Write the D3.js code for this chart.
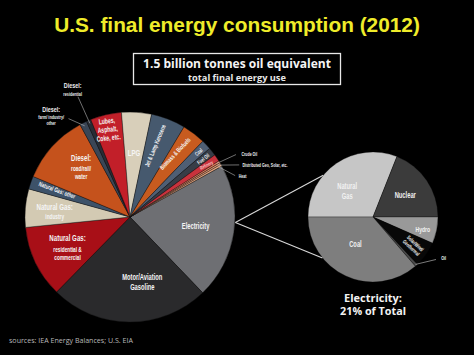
<!DOCTYPE html>
<html><head><meta charset="utf-8">
<script src="https://cdn.jsdelivr.net/npm/d3@7"></script>
<style>
html,body{margin:0;padding:0;background:#000;}
svg{display:block;}
</style></head>
<body>
<script>
// ---------- DATA ----------
const mainCategories = ["Electricity","Motor/Aviation Gasoline","Natural Gas: residential & commercial","Natural Gas: industry","Natural Gas: other","Diesel: road/rail/water","Diesel: farm/industry/other","Diesel: residential","Lubes, Asphalt, Coke, etc.","LPG","Jet & Lamp Kerosene","Biomass & Biofuels","Coal","Fuel Oil","Refinery","Crude Oil","Distributed Geo, Solar, etc.","Heat"];
const mainValues = [20.9,24.5,11.1,5.9,2.0,10.8,1.1,0.7,4.8,4.6,5.3,3.6,1.5,1.25,1.1,0.3,0.3,0.3];
const elecCategories = ["Natural Gas","Nuclear","Hydro","Solar/Wind/Geothermal","Oil","Coal"];
const elecValues = [31.0,19.0,6.6,6.4,0.7,36.3];
const titleText = "U.S. final energy consumption (2012)";
const totalText = ["1.5 billion tonnes oil equivalent","total final energy use"];
const elecTotalText = ["Electricity:","21% of Total"];
const sourceText = "sources: IEA Energy Balances; U.S. EIA";

// ---------- STYLE ----------
const mainColors = ["#6e6f73","#2a2a2c","#a80f17","#d3cab3","#3d5269","#c5521c","#3a4656","#272c35","#c21f29","#d8cfba","#46596e","#c75b1f","#4f5f74","#373d47","#c8323c","#e27a5a","#d99470","#e8a882"];
const elecColors = ["#c6c6c6","#3b3b3b","#999999","#080808","#4a4a4a","#7e7e7e"];
const W=474,H=355;
const labelFont = "'Liberation Sans',Arial,sans-serif";
const SX = 0.68; // condensed look
const rad = d=>d*Math.PI/180;

const svg = d3.select("body").append("svg").attr("width",W).attr("height",H);
svg.append("rect").attr("width",W).attr("height",H).attr("fill","#000");

function fit(sel, w){ const n=sel.node(); const l=n.getComputedTextLength(); const fs=parseFloat(sel.attr("font-size")); sel.attr("font-size", fs*w/l); }

// condensed multi-line label: lines = [[text,size,dy],...]
function ctext(parent, x, y, rot, lines, anchor, color){
  const grp = parent.append("g").attr("transform",`translate(${x},${y}) rotate(${rot||0}) scale(${SX},1)`);
  lines.forEach(([s,size,dy])=>{
    grp.append("text").attr("x",0).attr("y",dy).attr("text-anchor",anchor||"middle")
      .attr("font-family",labelFont).attr("font-weight","bold").attr("font-size",size)
      .attr("fill",color||"#f5f5f5").text(s);
  });
  return grp;
}

// title
const t = svg.append("text").attr("x",237).attr("y",32).attr("text-anchor","middle")
  .attr("font-family","'Liberation Sans',Arial,sans-serif").attr("font-weight","bold")
  .attr("font-size",20).attr("fill","#efec2a").text(titleText);
fit(t,366);

// total box
svg.append("rect").attr("x",133.5).attr("y",53.5).attr("width",207).attr("height",31)
  .attr("fill","none").attr("stroke","#e8e8e8").attr("stroke-width",1.3);
const b1 = svg.append("text").attr("x",237).attr("y",67.5).attr("text-anchor","middle")
  .attr("font-family","'Open Sans',Lato,sans-serif").attr("font-weight","bold").attr("font-size",12)
  .attr("fill","#f4f4f4").text(totalText[0]);
fit(b1,188);
const b2 = svg.append("text").attr("x",237).attr("y",81).attr("text-anchor","middle")
  .attr("font-family","'Open Sans',Lato,sans-serif").attr("font-weight","bold").attr("font-size",8)
  .attr("fill","#e8e8e8").text(totalText[1]);
fit(b2,98);

// ---------- MAIN PIE ----------
const cx=130, cy=217, R=105;
const start = rad(61);
const pie = d3.pie().sort(null).value(d=>d).startAngle(start).endAngle(start+2*Math.PI);
const arcs = pie(mainValues);
const arc = d3.arc().innerRadius(0).outerRadius(R);
const g = svg.append("g").attr("transform",`translate(${cx},${cy})`);
g.selectAll("path").data(arcs).join("path").attr("d",arc)
  .attr("fill",(d,i)=>mainColors[i]).attr("stroke","#111").attr("stroke-width",0.4);

function polar(deg, r){ return [r*Math.sin(rad(deg)), -r*Math.cos(rad(deg))]; }
const midDeg = d=>((d.startAngle+d.endAngle)/2)*180/Math.PI % 360;

// inside labels
const inLabels = [
  {i:0, da:-1, rf:0.63, lines:[["Electricity",8.5,3]]},
  {i:1, da:-11, rf:0.63, lines:[["Motor/Aviation",8.5,-2],["Gasoline",8.5,8.5]]},
  {i:2, da:0, rf:0.66, lines:[["Natural Gas:",9,-6],["residential &",7,5],["commercial",7,13]]},
  {i:3, da:0, rf:0.72, lines:[["Natural Gas:",9,-1],["industry",7,8.5]]},
  {i:4, da:1, rf:0.74, lines:[["Natural Gas: other",6.5,2.2]], rot:true},
  {i:5, da:3, rf:0.66, lines:[["Diesel:",9,-7],["road/rail/",7,3],["water",7,11]]},
  {i:8, da:-1, rf:0.86, lines:[["Lubes,",7.5,-6],["Asphalt,",7.5,2.5],["Coke, etc.",7.5,11]], rotFix:-6},
  {i:9, da:0, rf:0.61, lines:[["LPG",9,3]]},
  {i:10, da:-2, rf:0.72, lines:[["Jet & Lamp Kerosene",6.5,2.3]], rot:true, rotAdd:3},
  {i:11, da:-2, rf:0.74, lines:[["Biomass & Biofuels",6.5,2.3]], rot:true, rotAdd:8},
  {i:12, da:0, rf:0.9, lines:[["Coal",5.5,2]], rot:true},
  {i:13, da:0, rf:0.89, lines:[["Fuel Oil",5.5,2]], rot:true},
  {i:14, da:0, rf:0.88, lines:[["Refinery",5.2,2]], rot:true, rotAdd:8, col:"#f6c0c0"}
];
inLabels.forEach(L=>{
  const deg = midDeg(arcs[L.i])+L.da;
  const [x,y] = polar(deg, R*L.rf);
  let r = 0;
  if(L.rot){ r = deg>180 ? deg-270 : deg-90; r += (L.rotAdd||0); }
  if(L.rotFix) r = L.rotFix;
  ctext(g, x, y, r, L.lines, "middle", L.col);
});

// outside labels with leader lines
const outLabels = [
  {i:6, deg:323, r:131, anchor:"middle", lines:[["Diesel:",8,0],["farm/ industry/",5.5,7],["other",5.5,13]], lineTo:[328,116]},
  {i:7, deg:336, r:141, anchor:"middle", lines:[["Diesel:",8,0],["residential",5.5,7.5]], lineTo:[336.6,131]},
  {i:15, deg:60.5, r:128, anchor:"start", lines:[["Crude Oil",5.2,2]], lineTo:[59.5,123]},
  {i:16, deg:65, r:124, anchor:"start", lines:[["Distributed Geo, Solar, etc.",5.2,2]], lineTo:[64.5,121]},
  {i:17, deg:69.5, r:116, anchor:"start", lines:[["Heat",5.2,2]], lineTo:[68.5,113]}
];
outLabels.forEach(L=>{
  const deg = midDeg(arcs[L.i]);
  const p0 = polar(deg, R*0.97);
  const p1 = polar(L.lineTo[0], L.lineTo[1]);
  g.append("line").attr("x1",p0[0]).attr("y1",p0[1]).attr("x2",p1[0]).attr("y2",p1[1])
    .attr("stroke","#bbb").attr("stroke-width",0.6);
  const [x,y] = polar(L.deg, L.r);
  ctext(g, x, y, 0, L.lines, L.anchor, "#f0f0f0");
});

// ---------- ELECTRICITY PIE ----------
const ex=373, ey=217, r2=65;
const pie2 = d3.pie().sort(null).value(d=>d).startAngle(-Math.PI/2).endAngle(1.5*Math.PI);
const arcs2 = pie2(elecValues);
const arc2 = d3.arc().innerRadius(0).outerRadius(r2);
const g2 = svg.append("g").attr("transform",`translate(${ex},${ey})`);
g2.selectAll("path").data(arcs2).join("path").attr("d",arc2)
  .attr("fill",(d,i)=>elecColors[i]).attr("stroke","#000").attr("stroke-width",0.3);

// connector lines
const pMain = polar(93, R+0.5);
[310, 231].forEach(deg=>{
  const p = polar(deg, r2);
  svg.append("line").attr("x1",cx+pMain[0]).attr("y1",cy+pMain[1]).attr("x2",ex+p[0]).attr("y2",ey+p[1])
    .attr("stroke","#d8d8d8").attr("stroke-width",1.1);
});

const inLabels2 = [
  {i:0, da:-10, rf:0.57, lines:[["Natural",8.5,-1.5],["Gas",8.5,8.5]]},
  {i:1, da:0, rf:0.6, lines:[["Nuclear",8.5,3]]},
  {i:2, da:2, rf:0.79, lines:[["Hydro",7.5,3]]},
  {i:3, da:0, rf:0.76, lines:[["Solar/Wind/",5.5,-1],["Geothermal",5.5,5]], rot:true},
  {i:5, da:8, rf:0.5, lines:[["Coal",8.5,3]]}
];
inLabels2.forEach(L=>{
  const a = arcs2[L.i]; let deg = ((a.startAngle+a.endAngle)/2)*180/Math.PI + L.da;
  deg = (deg+360)%360;
  const [x,y] = polar(deg, r2*L.rf);
  ctext(g2, x, y, L.rot ? deg-90+8 : 0, L.lines, "middle", "#f2f2f2");
});
// Oil callout
{
  const a = arcs2[4]; const deg = ((a.startAngle+a.endAngle)/2)*180/Math.PI;
  const p0 = polar(deg, r2*0.98), p1 = polar(124, 76);
  g2.append("line").attr("x1",p0[0]).attr("y1",p0[1]).attr("x2",p1[0]).attr("y2",p1[1])
    .attr("stroke","#ccc").attr("stroke-width",0.6);
  const p2 = polar(122, 78);
  ctext(g2, p2[0]+2, p2[1]+2, 0, [["Oil",5.5,0]], "start", "#eee");
}

// Electricity total text
elecTotalText.forEach((s,k)=>{
  const tt = svg.append("text").attr("x",373).attr("y",301.5+k*13.5).attr("text-anchor","middle")
    .attr("font-family","'Open Sans',Lato,sans-serif").attr("font-weight","bold").attr("font-size",12)
    .attr("fill","#f2f2f2").text(s);
  fit(tt, k===0?58:66);
});

// source
const st = svg.append("text").attr("x",9).attr("y",343).attr("font-family","'Open Sans',Lato,sans-serif")
  .attr("font-size",7).attr("fill","#b8b8b8").text(sourceText);
fit(st,124);
</script>
</body></html>
